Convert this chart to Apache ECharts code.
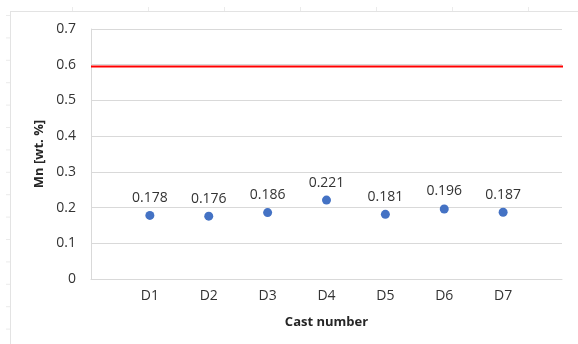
<!DOCTYPE html>
<html>
<head>
<meta charset="utf-8">
<script src="https://cdn.jsdelivr.net/npm/echarts@6/dist/echarts.min.js"></script>
<style>
html,body{margin:0;padding:0;background:#fff;}
#c{width:578px;height:344px;}
</style>
</head>
<body>
<div id="c"></div>
<script>
var categories = ['D1','D2','D3','D4','D5','D6','D7'];
var mnValues = [0.178, 0.176, 0.186, 0.221, 0.181, 0.196, 0.187];
var limitValue = 0.595;
var yTicks = [0, 0.1, 0.2, 0.3, 0.4, 0.5, 0.6, 0.7];

var chart = echarts.init(document.getElementById('c'), null, {renderer:'canvas'});
var font = '"Open Sans", "DejaVu Sans", sans-serif';
var grey = '#d9d9d9';
var txt = '#333333';

var scatterData = mnValues.map(function(v,i){ return [i+1, v]; });

var decor = [];
decor.push({type:'line', shape:{x1:10.5,y1:11,x2:10.5,y2:344}, style:{stroke:'#e3e3e3',lineWidth:1}, silent:true});
decor.push({type:'line', shape:{x1:10,y1:11.5,x2:578,y2:11.5}, style:{stroke:'#e3e3e3',lineWidth:1}, silent:true});
for (var k=0;k<15;k++){
  var yy = 15.5 + k*22.4;
  decor.push({type:'line', shape:{x1:6,y1:yy,x2:10,y2:yy}, style:{stroke:'#ebebeb',lineWidth:1}, silent:true});
}
for (var j=0;j<8;j++){
  var xx = 72.5 + j*76;
  decor.push({type:'line', shape:{x1:xx,y1:7,x2:xx,y2:11}, style:{stroke:'#ebebeb',lineWidth:1}, silent:true});
}

chart.setOption({
  animation:false,
  backgroundColor:'#fff',
  textStyle:{fontFamily:font},
  graphic: decor,
  grid:{left:91, right:16, top:29, bottom:65, containLabel:false},
  xAxis:{
    type:'value', min:0, max:8, interval:1,
    name:'Cast number', nameLocation:'middle', nameGap:37,
    nameTextStyle:{fontFamily:font, fontSize:13, fontWeight:'bold', color:'#262626'},
    axisLine:{show:true, lineStyle:{color:grey, width:1}},
    axisTick:{show:false},
    splitLine:{show:false},
    axisLabel:{
      fontFamily:font, fontSize:14, color:txt, margin:10,
      formatter:function(v){ return (v>=1 && v<=categories.length) ? categories[v-1] : ''; }
    }
  },
  yAxis:{
    type:'value', min:yTicks[0], max:yTicks[yTicks.length-1], interval:0.1,
    name:'Mn [wt. %]', nameLocation:'middle', nameGap:43, nameRotate:90,
    nameTextStyle:{fontFamily:font, fontSize:13, fontWeight:'bold', color:'#262626'},
    axisLine:{show:true, lineStyle:{color:grey, width:1}},
    axisTick:{show:false},
    splitLine:{show:true, lineStyle:{color:grey, width:1}},
    axisLabel:{
      fontFamily:font, fontSize:14, color:txt, margin:15,
      formatter:function(v){ return v===0 ? '0' : v.toFixed(1); }
    }
  },
  series:[
    {
      type:'line',
      data:[[0, limitValue],[8.16, limitValue]],
      symbol:'none',
      clip:false,
      lineStyle:{color:'#ff0000', width:2},
      z:3
    },
    {
      type:'scatter',
      data:scatterData,
      symbol:'circle',
      symbolSize:9,
      itemStyle:{color:'#4472c4', opacity:1},
      label:{
        show:true, position:'top', distance:6,
        fontFamily:font, fontSize:14, color:txt,
        formatter:function(p){ return p.value[1].toFixed(3); }
      },
      z:4
    }
  ]
});
</script>
</body>
</html>
